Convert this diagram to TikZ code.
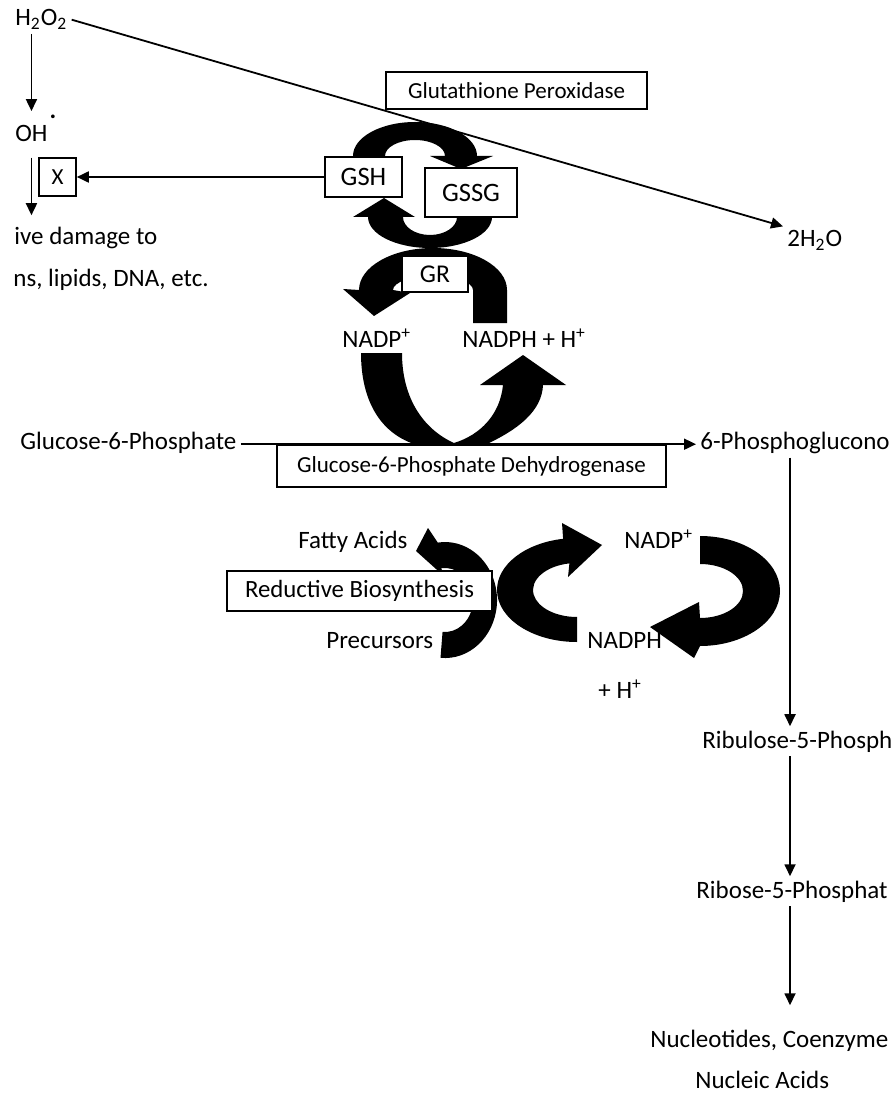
\documentclass[tikz,border=0pt]{standalone}
\usepackage{fontspec}
\setmainfont{Carlito}
\usetikzlibrary{arrows.meta,calc}

\begin{document}
\begin{tikzpicture}[
  x=0.5pt, y=-0.5pt, font=\fontsize{12.5}{15}\selectfont,
  lbl/.style={anchor=base west, inner sep=2pt},
  boxed/.style={draw, line width=0.8pt, fill=white, inner sep=0pt,
    font=\fontsize{11.5}{14}\selectfont},
  pool/.style={boxed, font=\fontsize{13.3}{16}\selectfont},
  flow/.style={-{Triangle[length=6pt,width=5.5pt]}, line width=0.9pt},
  band/.style={fill=black}
]
% The canvas is 892 by 1101 units; y runs downwards as in the source image.
\path[use as bounding box] (0,0) rectangle (892,1101);
\coordinate (col) at (790,0);

% Peroxide branch and the damage it causes.
\node[lbl] (h2o2) at (11,26) {H\textsubscript{2}O\textsubscript{2}};
\node[lbl] (oh) at (11,142)
  {OH\rlap{\kern1pt\raisebox{11.5pt}{\textbf{.}}}};
\node[lbl] (dmg) at (10,245) {ive damage to};
\node[lbl] (dmg2) at (9,286) {ns, lipids, DNA, etc.};
\node[boxed, minimum width=18.5pt, minimum height=19pt] (block) at (57.5,177) {X};
\node[lbl] (water) at (783,247) {2H\textsubscript{2}O};

\draw[flow] (h2o2.east) -- (water.north west);
\draw[flow] (h2o2.south -| oh.north) -- (oh.north);
\draw[flow] ($(oh.south)+(0,11)$) -- ($(oh.south |- dmg.north)+(0,-8)$);

% Glutathione cycle: two bands between GSH and GSSG, one through GR.
\fill[band] (353,166) -- (353,156)
  arc[start angle=180, end angle=360, x radius=62, y radius=34]
  -- (493,156) -- (461,169) -- (430,156) -- (445,156)
  arc[start angle=0, end angle=-180, x radius=30, y radius=16]
  -- (385,166) -- cycle;
\fill[band] (492,205) -- (492,217)
  arc[start angle=0, end angle=180, x radius=62, y radius=31]
  -- (353,217) -- (384,198) -- (415,217) -- (403,217)
  arc[start angle=180, end angle=0, x radius=27, y radius=18]
  -- (457,205) -- cycle;
\fill[band] (507,323) -- (507,290)
  arc[start angle=0, end angle=-180, x radius=74, y radius=42]
  -- (343,289) -- (374,316) -- (410,293) -- (393,290)
  arc[start angle=180, end angle=360, x radius=40, y radius=14]
  -- (473,323) -- cycle;

\node[boxed, minimum width=130.5pt, minimum height=18.5pt] (gpx) at (516.5,90.5)
  {Glutathione Peroxidase};
\node[pool, minimum width=38.5pt, minimum height=20pt] (gsh) at (363.5,177) {GSH};
\node[pool, minimum width=46pt, minimum height=24.5pt] (gssg) at (471,192.5) {GSSG};
\node[pool, font=\fontsize{12.8}{15}\selectfont, minimum width=33pt,
  minimum height=18pt] (gr) at (435,274) {GR};
\draw[flow] (gsh.west) -- (block.east);

% NADP+ / NADPH exchange at the dehydrogenase.
\node[lbl] (nadp) at (338,347) {NADP\textsuperscript{+}};
\node[lbl] (nadph) at (458,347) {NADPH + H\textsuperscript{+}};
\fill[band] (361,353) .. controls (361,400) and (380,440) .. (430,448)
  -- (478,448) .. controls (520,430) and (542,410) .. (543,385)
  -- (566,385) -- (523,355) -- (480,385) -- (503,385)
  .. controls (500,415) and (480,435) .. (454,443)
  .. controls (425,430) and (402,400) .. (402,353) -- cycle;

% Oxidative step of the pentose phosphate pathway.
\node[lbl] (g6p) at (16,449) {Glucose-6-Phosphate};
\node[lbl] (pgl) at (696,449) {6-Phosphoglucono};
\node[boxed, minimum width=194.5pt, minimum height=21pt] (g6pd) at (471.5,466)
  {Glucose-6-Phosphate Dehydrogenase};
\draw[flow] (g6p.east |- g6pd.north) -- (pgl.west |- g6pd.north);

% Reductive biosynthesis uses NADPH and returns NADP+.
\node[lbl] (fatty) at (294,548) {Fatty Acids};
\node[lbl] (prec) at (322,648) {Precursors};
\node[lbl] (nadp2) at (620,548) {NADP\textsuperscript{+}};
\node[lbl] (nadph2) at (583,648) {NADPH};
\node[lbl] (hplus) at (594,698) {+ H\textsuperscript{+}};
\fill[band] (440.5,657.8)
  arc[start angle=95, end angle=-98, x radius=52, y radius=58]
  -- (428,528) -- (416,551) -- (446,578) -- (441.1,568.3)
  arc[start angle=-98, end angle=95, x radius=28, y radius=32] -- cycle;
\fill[band] (577,642)
  arc[start angle=90, end angle=260, x radius=80, y radius=52]
  -- (562,523) -- (602,545) -- (568,577) -- (569.4,563.4)
  arc[start angle=260, end angle=90, x radius=44, y radius=27] -- cycle;
\fill[band] (700,536)
  arc[start angle=-90, end angle=90, x radius=80, y radius=55]
  -- (694,658) -- (650,627) -- (699,602) -- (700,618)
  arc[start angle=90, end angle=-90, x radius=43, y radius=27] -- cycle;
\node[boxed, font=\fontsize{12.4}{15}\selectfont, minimum width=132.5pt,
  minimum height=20pt] (rbs) at (359.5,591) {Reductive Biosynthesis};

% Non-oxidative branch down the right-hand column.
\node[lbl] (ru5p) at (698,748) {Ribulose-5-Phosph};
\node[lbl] (r5p) at (692,898) {Ribose-5-Phosphat};
\node[lbl] (nucl) at (646,1047) {Nucleotides, Coenzyme};
\node[lbl] (nacid) at (691,1088) {Nucleic Acids};
\draw[flow] (pgl.south -| col) -- (ru5p.north -| col);
\draw[flow] (ru5p.south -| col) -- (r5p.north -| col);
\draw[flow] (r5p.south -| col) -- ($(nucl.north -| col)+(0,-20)$);
\end{tikzpicture}
\end{document}
